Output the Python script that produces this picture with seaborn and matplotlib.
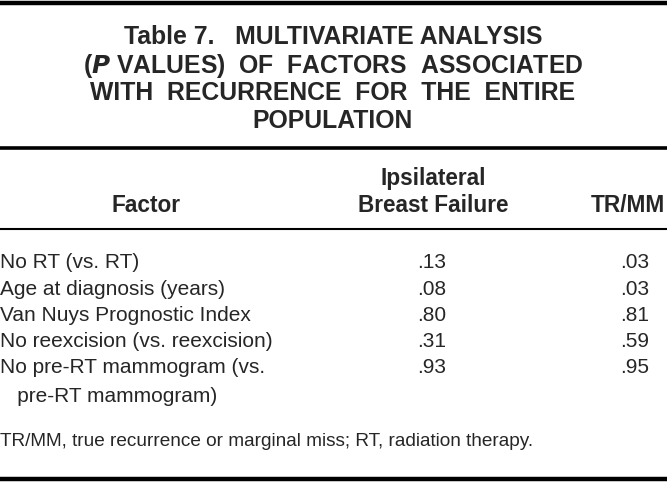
import pandas as pd
import matplotlib.pyplot as plt
import seaborn as sns

# table content
title_lines = ["Table 7.   MULTIVARIATE ANALYSIS",
               "(P VALUES)  OF  FACTORS  ASSOCIATED",
               "WITH  RECURRENCE  FOR  THE  ENTIRE",
               "POPULATION"]
factors = ["No RT (vs. RT)",
           "Age at diagnosis (years)",
           "Van Nuys Prognostic Index",
           "No reexcision (vs. reexcision)",
           "No pre-RT mammogram (vs.\n   pre-RT mammogram)"]
ibf_p = [".13", ".08", ".80", ".31", ".93"]
trmm_p = [".03", ".03", ".81", ".59", ".95"]
footnote = "TR/MM, true recurrence or marginal miss; RT, radiation therapy."

df = pd.DataFrame({"Factor": factors, "IBF": ibf_p, "TRMM": trmm_p})

sns.set_theme(style="white")
plt.rcParams['font.family'] = ['Liberation Sans', 'DejaVu Sans']

fig = plt.figure(figsize=(6.67, 4.82), dpi=100)
ax = fig.add_axes([0, 0, 1, 1])
ax.set_xlim(0, 667)
ax.set_ylim(482, 0)
ax.axis('off')

# rules
ax.axhline(2.5, color='black', lw=3.2)
ax.axhline(148, color='black', lw=2.6)
ax.axhline(228.5, color='black', lw=1.5)
ax.axhline(478.5, color='black', lw=3.2)

# title
title_y = [37, 65.5, 93.5, 121]
for i, line in enumerate(title_lines):
    if line.startswith("(P"):
        line = "($\\mathbfit{P}$" + line[2:]
    ax.text(333, title_y[i], line, ha='center', va='center', fontsize=17.8,
            fontweight='bold')

# header
hdr = dict(fontsize=16.3, fontweight='bold', va='center')
ax.text(146, 205, "Factor", ha='center', **hdr)
ax.text(433, 178, "Ipsilateral", ha='center', **hdr)
ax.text(433, 205, "Breast Failure", ha='center', **hdr)
ax.text(628, 205, "TR/MM", ha='center', **hdr)

# rows
row_y0, row_h = 263, 26.2
for i, r in df.iterrows():
    y = row_y0 + i * row_h
    for j, part in enumerate(r["Factor"].split("\n")):
        ax.text(0, y + j * 28.5, part, ha='left', va='center', fontsize=15)
    ax.text(432, y, r["IBF"], ha='center', va='center', fontsize=15)
    ax.text(635, y, r["TRMM"], ha='center', va='center', fontsize=15)

ax.text(0, 442, footnote, ha='left', va='center', fontsize=13.7)

fig.savefig("out.png", dpi=100)
